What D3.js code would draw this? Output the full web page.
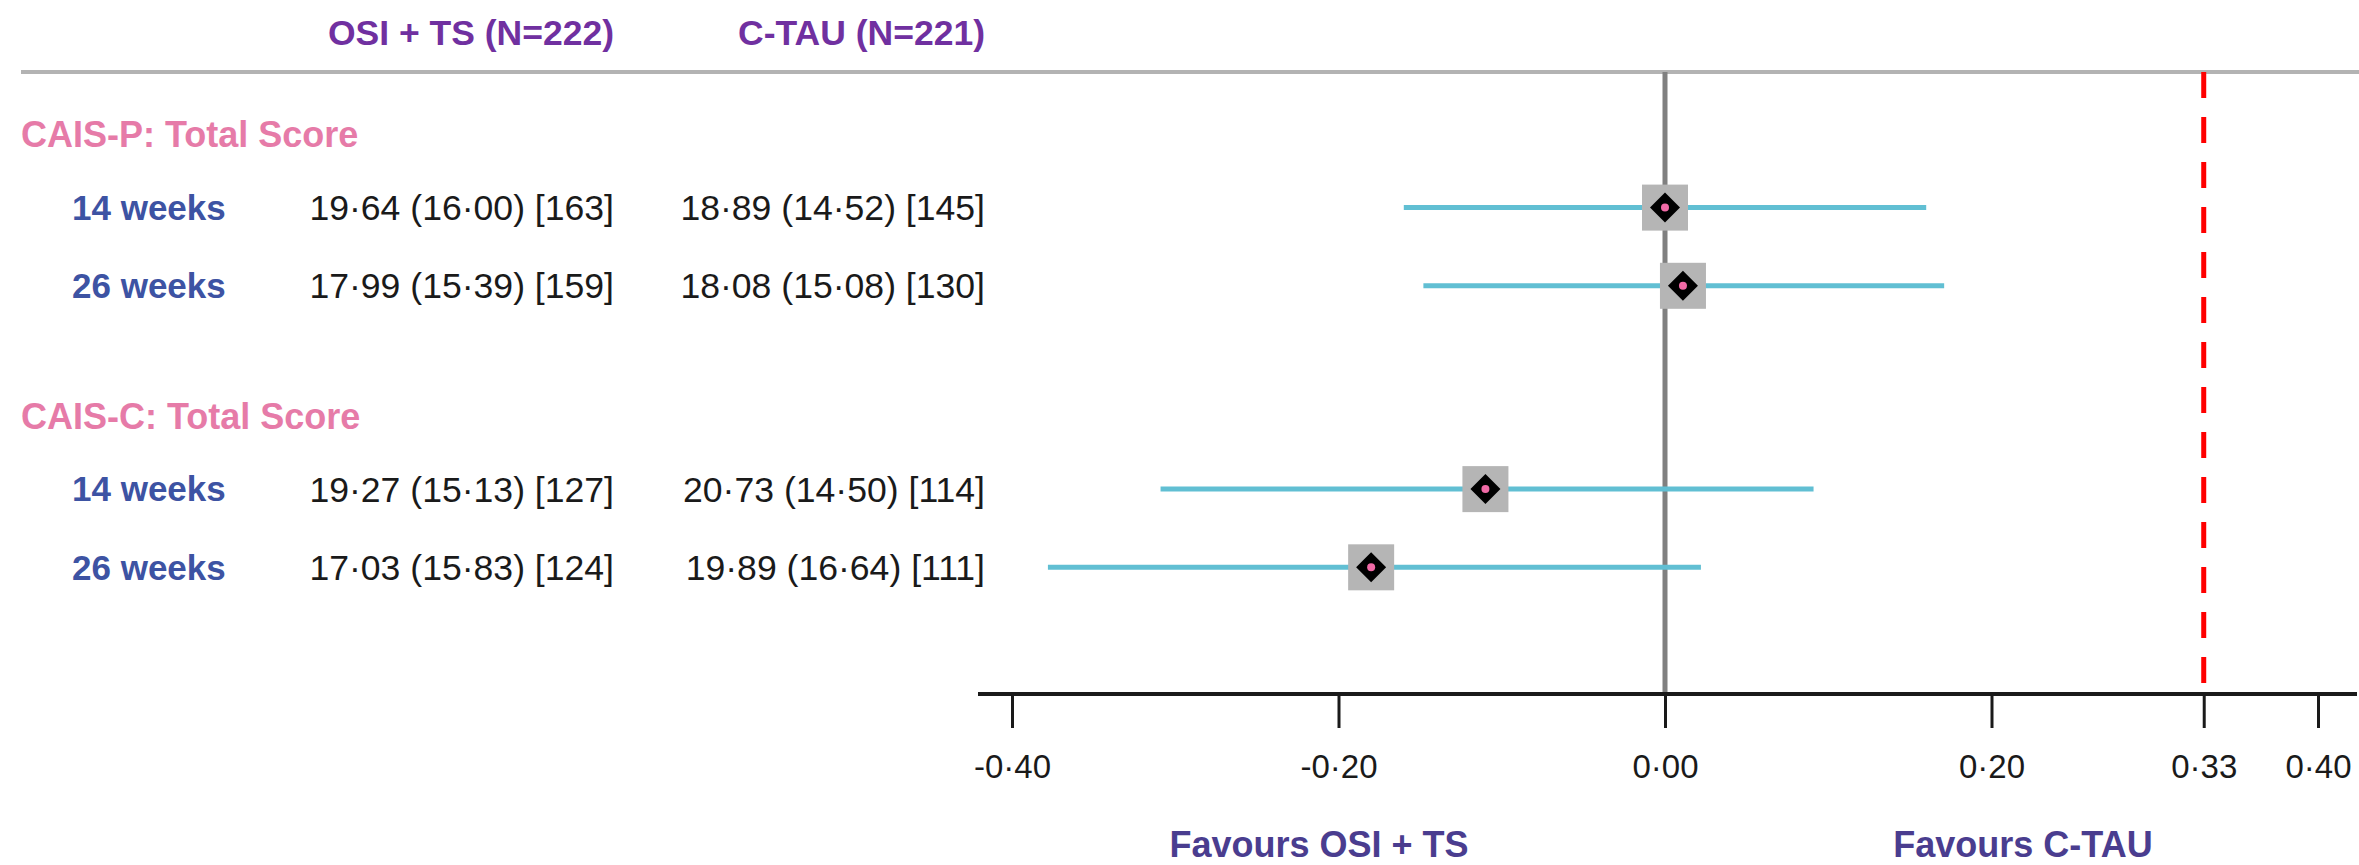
<!DOCTYPE html>
<html>
<head>
<meta charset="utf-8">
<script src="https://cdn.jsdelivr.net/npm/d3@7"></script>
<style>
  body { margin: 0; background: #fff; }
  text { font-family: "Liberation Sans", Arial, sans-serif; }
</style>
</head>
<body>
<svg id="forest" width="2359" height="865"></svg>
<script>
// data
const groups = ["OSI + TS (N=222)", "C-TAU (N=221)"];
const sections = ["CAIS-P: Total Score", "CAIS-C: Total Score"];
const rowSection = [0, 0, 1, 1];
const rowLabels = ["14 weeks", "26 weeks", "14 weeks", "26 weeks"];
const osiText = ["19·64 (16·00) [163]", "17·99 (15·39) [159]", "19·27 (15·13) [127]", "17·03 (15·83) [124]"];
const tauText = ["18·89 (14·52) [145]", "18·08 (15·08) [130]", "20·73 (14·50) [114]", "19·89 (16·64) [111]"];
const estimate = [0.000, 0.011, -0.110, -0.180];
const lower = [-0.160, -0.148, -0.309, -0.378];
const upper = [0.160, 0.171, 0.091, 0.022];
const tickValues = [-0.40, -0.20, 0.00, 0.20, 0.33, 0.40];
const threshold = 0.33;
const favours = ["Favours OSI + TS", "Favours C-TAU"];

const svg = d3.select("#forest"),
      width = +svg.attr("width"),
      height = +svg.attr("height");

const x = d3.scaleLinear().domain([-0.4, 0.4]).range([1012, 2318]);
// slot -> y ; rows sit on whole slots, section heads one slot above
const y = d3.scaleLinear().domain([0, 1]).range([207.6, 285.8]);
const sectionSlot = s => s * 3.6;
const rowIndexInSection = rowLabels.map((d, i) => rowSection.slice(0, i).filter(s => s === rowSection[i]).length);
const rowY = rowLabels.map((d, i) => y(sectionSlot(rowSection[i]) + rowIndexInSection[i]));

const axisY = 694, topY = 72;

// top rule
svg.append("line")
  .attr("x1", 21).attr("x2", width)
  .attr("y1", topY).attr("y2", topY)
  .attr("stroke", "#b3b3b3").attr("stroke-width", 4);

// column headers
svg.selectAll(".colhead")
  .data(groups)
  .enter().append("text")
    .attr("class", "colhead")
    .attr("x", (d, i) => i === 0 ? 614 : 985)
    .attr("y", 33).attr("dy", "0.35em")
    .attr("text-anchor", "end")
    .attr("font-size", 35.5).attr("font-weight", "bold")
    .attr("fill", "#7030a0")
    .text(d => d);

// section heads
svg.selectAll(".section")
  .data(sections)
  .enter().append("text")
    .attr("class", "section")
    .attr("x", 21)
    .attr("y", (d, i) => y(sectionSlot(i) - 0.93)).attr("dy", "0.35em")
    .attr("font-size", 36).attr("font-weight", "bold")
    .attr("fill", "#e67ba8")
    .text(d => d);

// row labels and values
svg.selectAll(".rowlab")
  .data(rowLabels)
  .enter().append("text")
    .attr("class", "rowlab")
    .attr("x", 72)
    .attr("y", (d, i) => rowY[i]).attr("dy", "0.35em")
    .attr("font-size", 35).attr("font-weight", "bold")
    .attr("fill", "#3d53a3")
    .text(d => d);

[osiText, tauText].forEach(function(col, c) {
  svg.append("g")
    .selectAll("text")
    .data(col)
    .enter().append("text")
      .attr("x", c === 0 ? 614 : 985)
      .attr("y", (d, i) => rowY[i]).attr("dy", "0.35em")
      .attr("text-anchor", "end")
      .attr("font-size", 35.6)
      .attr("fill", "#1a1a1a")
      .text(d => d);
});

// null line
svg.append("line")
  .attr("x1", x(0)).attr("x2", x(0))
  .attr("y1", topY).attr("y2", axisY)
  .attr("stroke", "#808080").attr("stroke-width", 5);

// threshold line
svg.append("line")
  .attr("x1", x(threshold)).attr("x2", x(threshold))
  .attr("y1", topY).attr("y2", axisY)
  .attr("stroke", "#ff0000").attr("stroke-width", 5)
  .attr("stroke-dasharray", "26 19");

// confidence intervals
svg.append("g")
  .selectAll("line")
  .data(estimate)
  .enter().append("line")
    .attr("x1", (d, i) => x(lower[i]))
    .attr("x2", (d, i) => x(upper[i]))
    .attr("y1", (d, i) => rowY[i])
    .attr("y2", (d, i) => rowY[i])
    .attr("stroke", "#61bfd3").attr("stroke-width", 5);

// point estimates: grey square, black diamond, pink dot
const pts = svg.append("g")
  .selectAll("g")
  .data(estimate)
  .enter().append("g")
    .attr("transform", (d, i) => `translate(${x(d)},${rowY[i]})`);

pts.append("rect")
  .attr("x", -23).attr("y", -23)
  .attr("width", 46).attr("height", 46)
  .attr("fill", "#b5b5b5");

pts.append("path")
  .attr("d", "M0,-15L15,0L0,15L-15,0Z")
  .attr("fill", "#000");

pts.append("circle")
  .attr("r", 4)
  .attr("fill", "#f06aa6");

// axis
const axis = svg.append("g")
  .attr("transform", `translate(0,${axisY})`)
  .call(d3.axisBottom(x)
    .tickValues(tickValues)
    .tickSize(34)
    .tickPadding(27)
    .tickFormat(d => d3.format(".2f")(d).replace("−", "-").replace(".", "·")));

axis.select(".domain").remove();
axis.selectAll(".tick line").attr("stroke", "#1a1a1a").attr("stroke-width", 3);
axis.selectAll(".tick text")
  .attr("font-size", 33)
  .attr("font-family", "Liberation Sans, Arial, sans-serif")
  .attr("fill", "#1a1a1a");

svg.append("line")
  .attr("x1", 978).attr("x2", 2357)
  .attr("y1", axisY).attr("y2", axisY)
  .attr("stroke", "#1a1a1a").attr("stroke-width", 4);

// favours labels
svg.selectAll(".favours")
  .data(favours)
  .enter().append("text")
    .attr("class", "favours")
    .attr("x", (d, i) => i === 0 ? 1319 : 2023)
    .attr("y", 857)
    .attr("text-anchor", "middle")
    .attr("font-size", 36).attr("font-weight", "bold")
    .attr("fill", "#4a3d8f")
    .text(d => d);
</script>
</body>
</html>
